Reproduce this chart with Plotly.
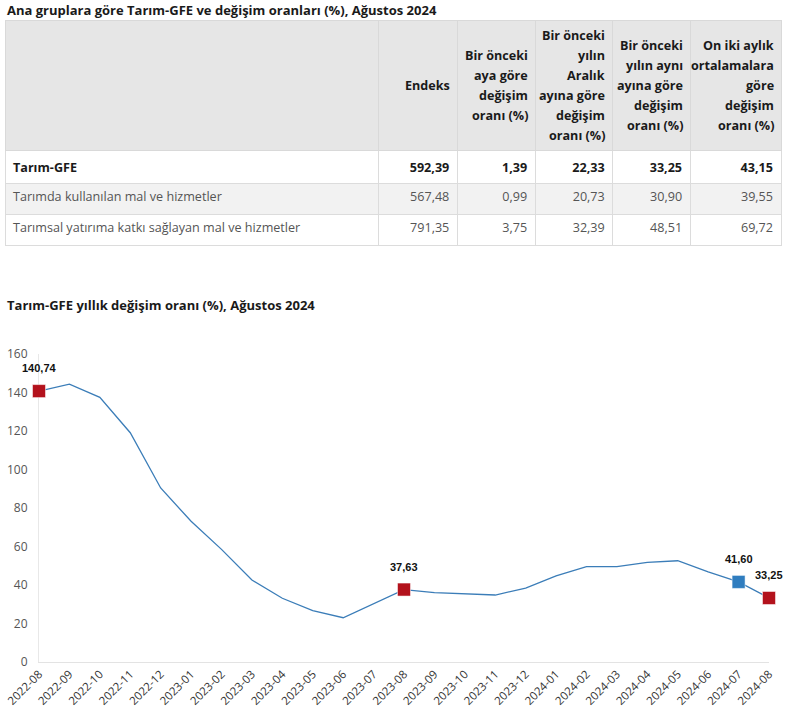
import plotly.graph_objects as go

# ---------------- data ----------------
table_title = "Ana gruplara göre Tarım-GFE ve değişim oranları (%), Ağustos 2024"
header_labels = [
    "",
    "Endeks",
    "Bir önceki<br>aya göre<br>değişim<br>oranı (%)",
    "Bir önceki<br>yılın<br>Aralık<br>ayına göre<br>değişim<br>oranı (%)",
    "Bir önceki<br>yılın aynı<br>ayına göre<br>değişim<br>oranı (%)",
    "On iki aylık<br>ortalamalara<br>göre<br>değişim<br>oranı (%)",
]
row_names = ["Tarım-GFE", "Tarımda kullanılan mal ve hizmetler",
             "Tarımsal yatırıma katkı sağlayan mal ve hizmetler"]
endeks = [592.39, 567.48, 791.35]
aylik = [1.39, 0.99, 3.75]
aralik = [22.33, 20.73, 32.39]
yillik = [33.25, 30.90, 48.51]
ortalama = [43.15, 39.55, 69.72]

chart_title = "Tarım-GFE yıllık değişim oranı (%), Ağustos 2024"
months = ["2022-08", "2022-09", "2022-10", "2022-11", "2022-12", "2023-01",
          "2023-02", "2023-03", "2023-04", "2023-05", "2023-06", "2023-07",
          "2023-08", "2023-09", "2023-10", "2023-11", "2023-12", "2024-01",
          "2024-02", "2024-03", "2024-04", "2024-05", "2024-06", "2024-07",
          "2024-08"]
annual_change = [140.74, 144.3, 137.5, 119.1, 90.4, 73.1, 58.5, 42.6, 33.1,
                 26.7, 23.0, 30.3, 37.63, 36.0, 35.3, 34.8, 38.4, 44.7, 49.5,
                 49.5, 51.8, 52.6, 46.8, 41.60, 33.25]
highlight_months = ["2022-08", "2023-08", "2024-07", "2024-08"]
highlight_colors = ["#b3121c", "#b3121c", "#2f7dbf", "#b3121c"]
y_ticks = [0, 20, 40, 60, 80, 100, 120, 140, 160]


def tr(v):
    return f"{v:.2f}".replace(".", ",")


W, H = 798, 724
FONT = "Open Sans, Noto Sans, sans-serif"
TXT_SIZE = 12.6

num_cols = [endeks, aylik, aralik, yillik, ortalama]
cells = [[("<b>" + n + "</b>") if i == 0 else n for i, n in enumerate(row_names)]]
for col in num_cols:
    cells.append([("<b>" + tr(v) + "</b>") if i == 0 else tr(v) for i, v in enumerate(col)])

row_fill = ["#ffffff", "#f2f2f2", "#ffffff"]
row_font = ["#1a1a1a", "#555555", "#555555"]

fig = go.Figure()

# table geometry (pixels)
col_edges = [5, 379, 457.7, 535.7, 613.3, 690.7, 781.7]
col_widths = [col_edges[i + 1] - col_edges[i] for i in range(len(col_edges) - 1)]
table_top = 20.5
header_h = 130
line_gap = 20

fig.add_trace(go.Table(
    domain=dict(x=[col_edges[0] / W, col_edges[-1] / W], y=[0.5, 1 - table_top / H]),
    columnwidth=col_widths,
    header=dict(
        values=[""] * len(header_labels),
        fill_color="#e6e6e6",
        line=dict(color="#d9d9d9", width=1),
        height=header_h,
    ),
    cells=dict(
        values=cells,
        fill_color=[row_fill] * 6,
        line=dict(color="#dcdcdc", width=1),
        align=["left"] + ["right"] * 5,
        font=dict(family=FONT, size=TXT_SIZE, color=[row_font] * 6),
        height=31,
    ),
))

fig.add_trace(go.Scatter(
    x=months, y=annual_change, mode="lines",
    line=dict(color="#3b7db8", width=1.3),
    hoverinfo="skip", showlegend=False,
))

hi_vals = [annual_change[months.index(m)] for m in highlight_months]
fig.add_trace(go.Scatter(
    x=highlight_months, y=hi_vals, mode="markers", cliponaxis=False,
    marker=dict(symbol="square", size=13, color=highlight_colors,
                line=dict(color="rgba(255,255,255,0.5)", width=1)),
    showlegend=False, hoverinfo="skip",
))

annotations = []
for m, v in zip(highlight_months, hi_vals):
    annotations.append(dict(
        x=m, y=v, xref="x", yref="y", text="<b>" + tr(v) + "</b>",
        showarrow=False, yshift=23,
        font=dict(family="Liberation Sans, Arial, sans-serif", size=11, color="#111111"),
    ))

# header labels, each line right-aligned and the block vertically centred
header_mid = table_top + header_h / 2
for j, lab in enumerate(header_labels):
    if not lab:
        continue
    lines = lab.split("<br>")
    n = len(lines)
    for k, ln in enumerate(lines):
        ypx = header_mid + (k - (n - 1) / 2) * line_gap
        annotations.append(dict(
            x=(col_edges[j + 1] - 6) / W, y=1 - ypx / H, xref="paper", yref="paper",
            xanchor="right", yanchor="middle", text="<b>" + ln + "</b>", showarrow=False,
            font=dict(family=FONT, size=TXT_SIZE, color="#1a1a1a"),
        ))

annotations.append(dict(
    x=5 / W, y=1 - 10 / H, xref="paper", yref="paper", xanchor="left", yanchor="middle",
    text="<b>" + table_title + "</b>", showarrow=False,
    font=dict(family=FONT, size=13, color="#1a1a1a"),
))
annotations.append(dict(
    x=5 / W, y=1 - 305 / H, xref="paper", yref="paper", xanchor="left", yanchor="middle",
    text="<b>" + chart_title + "</b>", showarrow=False,
    font=dict(family=FONT, size=13, color="#1a1a1a"),
))

fig.update_layout(
    width=W, height=H,
    margin=dict(l=0, r=0, t=0, b=0, pad=0),
    paper_bgcolor="white", plot_bgcolor="white",
    annotations=annotations,
    xaxis=dict(
        domain=[39 / W, 769 / W], type="category", range=[0, len(months) - 1],
        automargin=False, layer="below traces",
        showgrid=False, zeroline=False, showline=True, linecolor="#e3e3e3", linewidth=1,
        tickangle=-45, tickfont=dict(family=FONT, size=11.5, color="#333333"),
        ticks="", fixedrange=True,
    ),
    yaxis=dict(
        domain=[(H - 662) / H, (H - 354) / H], range=[0, 160],
        automargin=False, layer="below traces",
        tickvals=y_ticks, showgrid=False, zeroline=False,
        showline=True, linecolor="#e8e8e8", linewidth=1,
        ticks="", ticklabelstandoff=8,
        tickfont=dict(family=FONT, size=12, color="#555555"),
    ),
)

fig.write_html("out.html", config={"displayModeBar": False},
               post_script="document.body.style.margin='0';")
